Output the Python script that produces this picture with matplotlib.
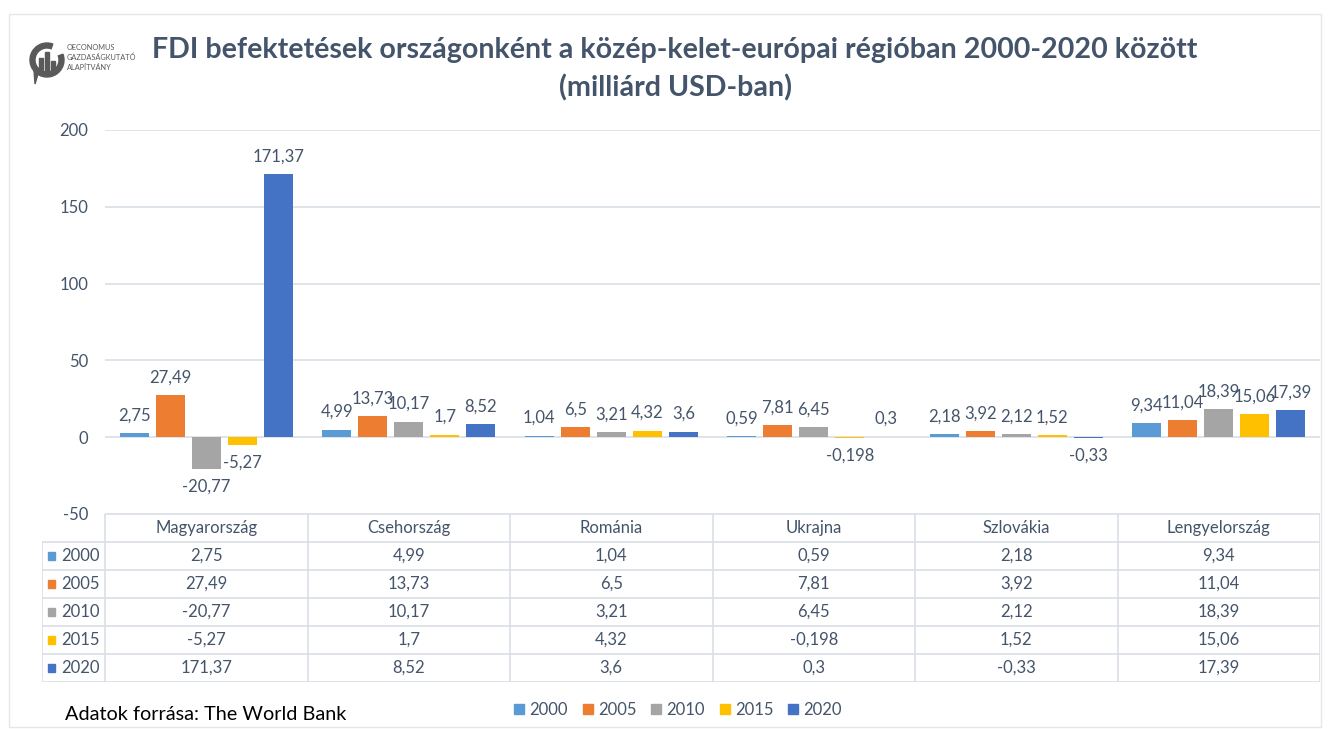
import matplotlib
matplotlib.use("Agg")
import matplotlib.pyplot as plt
from matplotlib.patches import Patch, Rectangle, Wedge, Polygon
import numpy as np

plt.rcParams["font.family"] = ["Lato", "DejaVu Sans"]
plt.rcParams["axes.unicode_minus"] = False

countries = ["Magyarország", "Csehország", "Románia", "Ukrajna", "Szlovákia", "Lengyelország"]
years = ["2000", "2005", "2010", "2015", "2020"]
v2000 = [2.75, 4.99, 1.04, 0.59, 2.18, 9.34]
v2005 = [27.49, 13.73, 6.5, 7.81, 3.92, 11.04]
v2010 = [-20.77, 10.17, 3.21, 6.45, 2.12, 18.39]
v2015 = [-5.27, 1.7, 4.32, -0.198, 1.52, 15.06]
v2020 = [171.37, 8.52, 3.6, 0.3, -0.33, 17.39]
series = [v2000, v2005, v2010, v2015, v2020]
colors = ["#5B9BD5", "#ED7D31", "#A5A5A5", "#FFC000", "#4472C4"]

text_col = "#44546A"
grid_col = "#D9DEE6"


def fmt(v):
    return f"{v:g}".replace(".", ",")


W, H = 1330, 729
fig = plt.figure(figsize=(W / 100, H / 100), dpi=100)

# outer border of the chart area
fig.patches.append(Rectangle((9 / W, 1 - 727 / H), 1312 / W, 713 / H,
                             transform=fig.transFigure, fill=False,
                             edgecolor="#E6E6E6", lw=1))

# main bar axes
ax_l, ax_r = 105 / W, 1320 / W
ax = fig.add_axes([ax_l, 1 - 514 / H, ax_r - ax_l, 384 / H])
x = np.arange(len(countries))
step, width = 0.178, 0.143
for i, (vals, c) in enumerate(zip(series, colors)):
    bars = ax.bar(x + (i - 2) * step, vals, width, color=c, zorder=3)
    ax.bar_label(bars, labels=[fmt(v) for v in vals], padding=7,
                 fontsize=12, color=text_col)

ax.set_xlim(-0.5, len(countries) - 0.5)
ax.set_ylim(-50, 200)
ax.set_yticks([-50, 0, 50, 100, 150, 200])
ax.yaxis.grid(True, color=grid_col, lw=1.2, zorder=0)
ax.set_xticks([])
for s in ax.spines.values():
    s.set_visible(False)
ax.tick_params(axis="y", length=0, labelsize=12, labelcolor=text_col, pad=12)

# data table under the plot
row_w = 63 / 202.5
tax = fig.add_axes([42 / W, 1 - 682 / H, (1320 - 42) / W, 168 / H])
tax.set_xlim(-0.5 - row_w, len(countries) - 0.5)
tax.set_ylim(6, 0)
tax.axis("off")
left = -0.5 - row_w
right = len(countries) - 0.5
tax.plot([-0.5, right], [0, 0], color=grid_col, lw=1.2)
for r in range(1, 7):
    tax.plot([left, right], [r, r], color=grid_col, lw=1.2)
tax.plot([left, left], [1, 6], color=grid_col, lw=1.2)
for c in range(len(countries) + 1):
    tax.plot([c - 0.5] * 2, [0, 6], color=grid_col, lw=1.2)
for j, name in enumerate(countries):
    tax.text(j, 0.5, name, ha="center", va="center", fontsize=12, color=text_col)
for i, (yr, vals, col) in enumerate(zip(years, series, colors)):
    r = i + 1.5
    tax.add_patch(Rectangle((left + 0.028, r - 0.16), 0.038, 0.32, color=col))
    tax.text(left + 0.095, r, yr, ha="left", va="center", fontsize=12, color=text_col)
    for j, v in enumerate(vals):
        tax.text(j, r, fmt(v), ha="center", va="center", fontsize=12, color=text_col)

# title
fig.text(675 / W, 1 - 50 / H,
         "FDI befektetések országonként a közép-kelet-európai régióban 2000-2020 között",
         ha="center", va="center", fontsize=20.6, fontweight="bold", color=text_col)
fig.text(675 / W, 1 - 88 / H, "(milliárd USD-ban)",
         ha="center", va="center", fontsize=20.6, fontweight="bold", color=text_col)

# logo
logo_col = "#5A5A5A"
lax = fig.add_axes([26 / W, 1 - 90 / H, 40 / W, 52 / H])
lax.set_xlim(0, 40)
lax.set_ylim(0, 52)
lax.set_aspect("equal")
lax.axis("off")
lax.add_patch(Wedge((21, 30), 17, 70, 380, width=5, color=logo_col))
lax.add_patch(Polygon([[8, 20], [12, 16], [9, 6]], color=logo_col))
lax.add_patch(Rectangle((13, 19), 4, 13, color=logo_col))
lax.add_patch(Rectangle((19, 19), 4, 19, color=logo_col))
lax.add_patch(Rectangle((25, 19), 4, 10, color=logo_col))
for k, t in enumerate(["OECONOMUS", "GAZDASÁGKUTATÓ", "ALAPÍTVÁNY"]):
    fig.text(67 / W, 1 - (47 + k * 10.5) / H, t, ha="left", va="center",
             fontsize=5.3, color="#595959")

# legend and source
handles = [Patch(color=c, label=y) for y, c in zip(years, colors)]
fig.legend(handles=handles, loc="center", bbox_to_anchor=(678 / W, 1 - 710 / H),
           ncol=5, frameon=False, fontsize=12, labelcolor=text_col,
           handlelength=0.6, handleheight=0.6, handletextpad=0.3, columnspacing=0.9)
fig.text(65 / W, 1 - 714 / H, "Adatok forrása: The World Bank", ha="left",
         va="center", fontsize=14.3, color="#000000")

fig.savefig("out.png", dpi=100)
